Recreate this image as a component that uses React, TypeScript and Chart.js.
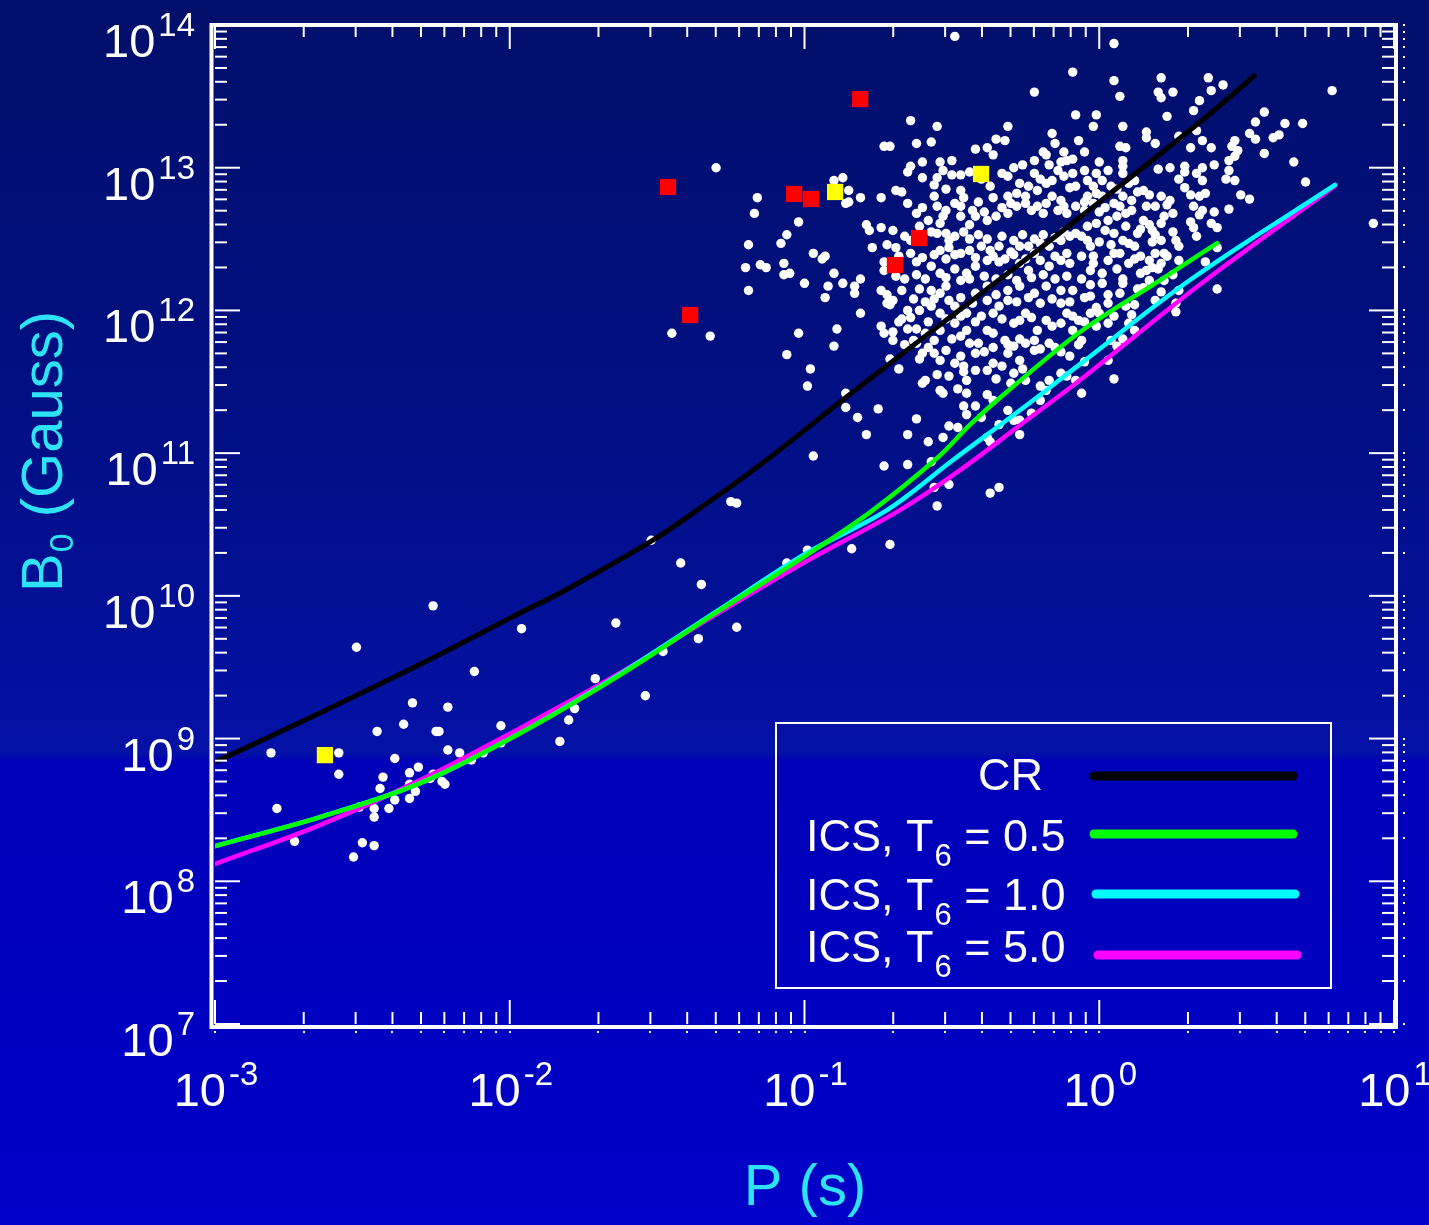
import React, { useEffect, useRef } from "react";
import { Chart, registerables } from "chart.js";

Chart.register(...registerables);

const FONT = '"Liberation Sans", Arial, Helvetica, sans-serif';

// Axis ranges and tick exponents
const X_MIN = 1e-3;
const X_MAX = 10;
const Y_MIN = 1e7;
const Y_MAX = 1e14;
const X_EXPONENTS = [-3, -2, -1, 0, 1];
const Y_EXPONENTS = [7, 8, 9, 10, 11, 12, 13, 14];
const X_TITLE = "P (s)";
const Y_TITLE = { main: "B", sub: "0", rest: " (Gauss)" };

// Legend entries
const LEGEND_ITEMS = [
  { main: "CR", sub: "", rest: "" },
  { main: "ICS, T", sub: "6", rest: " = 0.5" },
  { main: "ICS, T", sub: "6", rest: " = 1.0" },
  { main: "ICS, T", sub: "6", rest: " = 5.0" },
];

// Curves: [log10 P(s), log10 B(G)]
const crCurve = [
  [-3, 8.835], [-2.644, 9.179], [-2.304, 9.52], [-1.965, 9.88], [-1.829, 10.02],
  [-1.514, 10.391], [-1.354, 10.615], [-1.151, 10.917], [-0.879, 11.358], [-0.608, 11.792],
  [-0.336, 12.22], [-0.065, 12.654], [0.342, 13.32], [0.526, 13.643],
];
const icsT05 = [
  [-3, 8.247], [-2.644, 8.45], [-2.304, 8.688], [-1.965, 9.038], [-1.626, 9.445],
  [-1.287, 9.9], [-0.998, 10.279], [-0.777, 10.587], [-0.55, 10.966], [-0.438, 11.2],
  [-0.326, 11.407], [-0.065, 11.849], [0.207, 12.213], [0.4, 12.472],
];
const icsT10 = [
  [-3, 8.247], [-2.644, 8.45], [-2.304, 8.688], [-1.965, 9.038], [-1.626, 9.452],
  [-1.287, 9.907], [-0.998, 10.293], [-0.72, 10.601], [-0.496, 10.952], [-0.268, 11.302],
  [-0.065, 11.624], [0.308, 12.213], [0.8, 12.879],
];
const icsT50 = [
  [-3, 8.121], [-2.644, 8.394], [-2.304, 8.709], [-1.965, 9.073], [-1.626, 9.459],
  [-1.287, 9.886], [-0.998, 10.237], [-0.676, 10.601], [-0.472, 10.881], [-0.268, 11.197],
  [-0.065, 11.512], [0.353, 12.199], [0.8, 12.872],
];

// Red squares and yellow squares: [log10 P, log10 B]
const redSquares = [
  [-1.463, 12.865], [-1.388, 11.968], [-1.035, 12.816], [-0.978, 12.781],
  [-0.811, 13.481], [-0.693, 12.318], [-0.611, 12.507],
];
const yellowSquares = [
  [-2.627, 8.884], [-0.896, 12.83], [-0.401, 12.956],
];

// Pulsars (white dots): [log10 P, log10 B]
const pulsarsFast = [
  [-2.26, 9.93], [-2.52, 9.64], [-1.96, 9.77], [-1.64, 9.81], [-1.35, 10.08], [-2.12, 9.47],
  [-2.33, 9.25], [-2.21, 9.22], [-1.71, 9.42], [-1.54, 9.3], [-1.36, 9.7], [-1.23, 9.78],
  [-2.45, 9.05], [-2.36, 9.1], [-2.25, 9.05], [-2.24, 9.05], [-2.03, 9.09], [-1.78, 9.21],
  [-1.8, 9.13], [-1.83, 8.98], [-2.81, 8.9], [-2.58, 8.9], [-2.58, 8.75], [-2.39, 8.86],
  [-2.21, 8.92], [-2.17, 8.9], [-2.13, 8.85], [-2.09, 8.9], [-2.03, 8.97], [-2.43, 8.73],
  [-2.34, 8.76], [-2.31, 8.8], [-2.27, 8.72], [-2.26, 8.75], [-2.23, 8.7], [-2.22, 8.68],
  [-2.34, 8.68], [-2.44, 8.65], [-2.32, 8.63], [-2.39, 8.57], [-2.34, 8.58], [-2.51, 8.52],
  [-2.46, 8.51], [-2.41, 8.51], [-2.46, 8.45], [-2.79, 8.51], [-2.73, 8.28], [-2.5, 8.27],
  [-2.46, 8.25], [-2.53, 8.17], [-1.48, 9.61],
];
const pulsarsMid = [
  [-1.3, 13.0], [-1.16, 12.79], [-1.17, 12.68], [-1.02, 12.62], [-1.06, 12.53], [-1.19, 12.46],
  [-1.08, 12.47], [-1.2, 12.3], [-1.15, 12.32], [-1.13, 12.3], [-1.07, 12.33], [-1.07, 12.25],
  [-1.05, 12.26], [-0.97, 12.4], [-0.94, 12.36], [-0.93, 12.38], [-0.9, 12.26], [-1.0, 12.19],
  [-0.92, 12.17], [-0.93, 12.09], [-1.19, 12.14], [-1.02, 11.84], [-0.89, 11.87], [-0.9, 11.75],
  [-1.06, 11.69], [-0.98, 11.59], [-0.99, 11.47], [-1.45, 11.84], [-1.32, 11.82], [-0.97, 10.98],
  [-1.25, 10.66], [-1.23, 10.65], [-1.42, 10.23], [-1.06, 10.23], [-0.99, 10.32], [-1.52, 10.39],
  [-0.84, 10.33], [-0.71, 10.36], [-0.49, 13.92], [0.05, 13.87],
];
const pulsarsUpper = [
  [-0.09, 13.67], [-0.22, 13.53], [-0.08, 13.37], [-0.64, 13.33], [-0.55, 13.29], [-0.31, 13.29],
  [-0.16, 13.24], [-0.73, 13.15], [-0.71, 13.15], [-0.62, 13.17], [-0.57, 13.18], [-0.35, 13.2],
  [-0.32, 13.19], [-0.42, 13.13], [-0.38, 13.14], [-0.36, 13.09], [-0.15, 13.17], [-0.07, 13.19],
  [-0.19, 13.11], [-0.18, 13.09], [-0.12, 13.11], [-0.22, 13.05], [-0.26, 13.02], [-0.6, 13.04],
  [-0.54, 13.04], [-0.5, 13.05], [-0.64, 13.01], [-0.65, 12.97], [-0.53, 12.98], [-0.55, 12.93],
  [-0.5, 12.95], [-0.47, 12.95], [-0.33, 12.96], [-0.29, 13.0], [-0.17, 13.02], [-0.13, 13.04],
  [-0.11, 13.05], [-0.09, 13.06], [-0.9, 12.91], [-0.87, 12.93], [-0.85, 12.84], [-0.74, 12.79],
  [-0.69, 12.84], [-0.67, 12.83], [-0.81, 12.79], [-0.85, 12.76], [-0.86, 12.75], [-0.65, 12.75],
  [-0.56, 12.88], [-0.52, 12.85], [-0.47, 12.84], [-0.37, 12.87], [-0.27, 12.89], [-0.24, 12.87],
  [-0.18, 12.89], [-0.16, 12.91], [-0.12, 12.94], [-0.09, 12.96], [-0.56, 12.8], [-0.55, 12.73],
  [-0.49, 12.75], [-0.46, 12.79], [-0.43, 12.7], [-0.39, 12.69], [-0.36, 12.79], [-0.31, 12.8],
  [-0.28, 12.82], [-0.25, 12.8], [-0.21, 12.84], [-0.16, 12.8], [-0.13, 12.77], [-0.1, 12.86],
  [-0.08, 12.87], [-0.79, 12.6], [-0.78, 12.56], [-0.74, 12.58], [-0.7, 12.56], [-0.61, 12.59],
  [-0.58, 12.63], [-0.54, 12.61], [-0.53, 12.66], [-0.47, 12.66], [-0.44, 12.6], [-0.42, 12.66],
  [-0.38, 12.63], [-0.35, 12.66], [-0.31, 12.68], [-0.28, 12.73], [-0.25, 12.75], [-0.21, 12.73],
  [-0.18, 12.75], [-0.14, 12.7], [-0.11, 12.68], [-0.08, 12.73], [-0.77, 12.44], [-0.72, 12.46],
  [-0.69, 12.44], [-0.62, 12.34], [-0.57, 12.55], [-0.55, 12.54], [-0.52, 12.54], [-0.49, 12.52],
  [-0.46, 12.55], [-0.54, 12.42], [-0.51, 12.44], [-0.47, 12.4], [-0.44, 12.42], [-0.4, 12.45],
  [-0.37, 12.42], [-0.34, 12.45], [-0.3, 12.41], [-0.27, 12.45], [-0.24, 12.45], [-0.2, 12.47],
  [-0.17, 12.45], [-0.13, 12.49], [-0.1, 12.52], [-0.08, 12.54], [-0.73, 12.34], [-0.73, 12.28],
  [-0.81, 12.22], [-0.57, 12.31], [-0.54, 12.26], [-0.49, 12.29], [-0.45, 12.26], [-0.42, 12.31],
  [-0.38, 12.35], [-0.34, 12.34], [-0.27, 12.33], [-0.24, 12.28], [-0.2, 12.35], [-0.17, 12.31],
  [-0.13, 12.35], [-0.1, 12.33],
];
const pulsarsCore = [
  [-0.87, 12.19], [-0.83, 12.17], [-0.83, 12.12], [-0.81, 11.98], [-0.74, 12.14], [-0.72, 12.11],
  [-0.7, 12.07], [-0.67, 12.14], [-0.72, 12.05], [-0.71, 12.04], [-0.65, 12.0], [-0.67, 11.94],
  [-0.68, 11.92], [-0.74, 11.89], [-0.73, 11.84], [-0.7, 11.79], [-0.7, 11.85], [-0.65, 11.87],
  [-0.62, 11.87], [-0.68, 11.59], [-0.71, 11.66], [-0.66, 11.76], [-0.63, 11.79], [-0.61, 12.15],
  [-0.57, 12.14], [-0.56, 12.08], [-0.54, 12.12], [-0.52, 12.17], [-0.61, 12.0], [-0.57, 12.03],
  [-0.54, 11.98], [-0.49, 12.03], [-0.59, 11.84], [-0.56, 11.79], [-0.54, 11.86], [-0.49, 11.91],
  [-0.47, 11.82], [-0.45, 11.86], [-0.6, 11.7], [-0.56, 11.7], [-0.54, 11.65], [-0.52, 11.72],
  [-0.49, 11.63], [-0.46, 11.61], [-0.61, 11.66], [-0.6, 11.49], [-0.59, 11.51], [-0.55, 11.55],
  [-0.54, 11.44], [-0.53, 11.42], [-0.51, 11.54], [-0.48, 11.45], [-0.46, 11.57], [-0.45, 11.51],
  [-0.45, 11.42], [-0.47, 11.68], [-0.44, 11.77], [-0.42, 11.7], [-0.39, 11.71], [-0.45, 11.98],
  [-0.4, 11.96], [-0.36, 11.98], [-0.34, 12.03], [-0.31, 12.07], [-0.42, 12.12], [-0.38, 12.17],
  [-0.35, 12.11], [-0.31, 12.14], [-0.27, 12.17], [-0.22, 12.12], [-0.18, 12.17], [-0.13, 12.14],
  [-0.09, 12.14], [-0.38, 11.86], [-0.36, 11.84], [-0.32, 11.79], [-0.31, 11.76], [-0.29, 11.75],
  [-0.27, 11.93], [-0.25, 11.98], [-0.21, 11.86], [-0.18, 11.93], [-0.13, 11.91], [-0.11, 11.98],
  [-0.09, 11.86], [-0.25, 11.77], [-0.22, 11.72], [-0.2, 11.73], [-0.17, 11.77], [-0.13, 11.71],
  [-0.1, 11.68], [-0.42, 11.58], [-0.38, 11.58], [-0.36, 11.63], [-0.33, 11.61], [-0.31, 11.7],
  [-0.27, 11.65], [-0.35, 11.52], [-0.3, 11.49], [-0.29, 11.56], [-0.26, 11.59], [-0.25, 11.51],
  [-0.2, 11.47], [-0.17, 11.51], [-0.13, 11.56], [-0.38, 11.41], [-0.36, 11.37], [-0.42, 11.33],
  [-0.46, 11.33], [-0.45, 11.27], [-0.51, 11.19], [-0.48, 11.18], [-0.4, 11.25], [-0.31, 11.3],
  [-0.29, 11.23], [-0.27, 11.23], [-0.23, 11.28], [-0.2, 11.37], [-0.18, 11.44], [-0.27, 11.13],
  [-0.34, 11.2], [-0.38, 11.11], [-0.37, 11.08], [-0.09, 11.96], [-0.08, 11.51], [-0.11, 11.54],
  [-0.13, 12.05], [-0.86, 11.32], [-0.75, 11.31], [-0.82, 11.25], [-0.79, 11.13], [-0.62, 11.24],
  [-0.65, 11.13], [-0.58, 11.08], [-0.53, 11.11], [-0.73, 10.91], [-0.65, 10.92], [-0.57, 10.94],
  [-0.51, 10.78], [-0.56, 10.76], [-0.55, 10.63], [-0.37, 10.72], [-0.34, 10.76], [-0.86, 11.42],
];
const pulsarsDense = [
  [-0.6, 12.93], [-0.44, 12.97], [-0.4, 12.92], [-0.31, 12.94], [-0.22, 12.96], [-0.2, 12.92],
  [-0.14, 12.98], [-0.6, 12.72], [-0.52, 12.7], [-0.47, 12.73], [-0.41, 12.76], [-0.33, 12.72],
  [-0.3, 12.75], [-0.23, 12.7], [-0.19, 12.68], [-0.12, 12.73], [-0.05, 12.76], [-0.62, 12.68],
  [-0.66, 12.52], [-0.64, 12.49], [-0.6, 12.5], [-0.51, 12.49], [-0.44, 12.5], [-0.41, 12.53],
  [-0.38, 12.5], [-0.33, 12.52], [-0.29, 12.49], [-0.26, 12.53], [-0.22, 12.5], [-0.19, 12.53],
  [-0.15, 12.51], [-0.12, 12.55], [-0.04, 12.49], [-0.68, 12.38], [-0.64, 12.4], [-0.6, 12.37],
  [-0.56, 12.39], [-0.52, 12.36], [-0.49, 12.39], [-0.42, 12.37], [-0.36, 12.38], [-0.32, 12.36],
  [-0.29, 12.39], [-0.25, 12.36], [-0.22, 12.4], [-0.15, 12.38], [-0.11, 12.4], [-0.06, 12.38],
  [-0.69, 12.24], [-0.66, 12.22], [-0.62, 12.25], [-0.59, 12.22], [-0.52, 12.23], [-0.47, 12.21],
  [-0.44, 12.22], [-0.39, 12.24], [-0.35, 12.22], [-0.31, 12.25], [-0.28, 12.21], [-0.23, 12.23],
  [-0.19, 12.25], [-0.15, 12.22], [-0.11, 12.24], [-0.06, 12.22], [-0.63, 12.08], [-0.59, 12.06],
  [-0.51, 12.07], [-0.47, 12.09], [-0.43, 12.05], [-0.38, 12.07], [-0.28, 12.06], [-0.24, 12.09],
  [-0.2, 12.05], [-0.16, 12.08], [-0.1, 12.06], [-0.05, 12.09], [-0.64, 11.95], [-0.58, 11.92],
  [-0.52, 11.94], [-0.47, 11.96], [-0.42, 11.92], [-0.33, 11.94], [-0.29, 11.91], [-0.23, 11.95],
  [-0.16, 11.89], [-0.07, 11.93], [-0.62, 11.77], [-0.58, 11.74], [-0.5, 11.8], [-0.41, 11.77],
  [-0.36, 11.74], [-0.27, 11.8], [-0.22, 11.79], [-0.15, 11.74], [-0.07, 11.76], [0.02, 12.72],
  [0.06, 12.85], [0.11, 12.7], [0.14, 12.57], [0.02, 12.56], [0.1, 12.47], [0.19, 12.53],
  [0.12, 12.36], [0.05, 12.4], [-0.02, 12.33], [0.18, 12.3], [0.25, 12.25], [0.15, 12.16],
  [0.19, 12.07], [0.09, 12.03], [-0.01, 12.02],
];
const pulsarsSlow = [
  [0.05, 13.61], [0.21, 13.63], [0.37, 13.63], [0.42, 13.58], [0.07, 13.5], [0.2, 13.53],
  [0.21, 13.49], [0.25, 13.53], [0.38, 13.54], [0.34, 13.47], [0.32, 13.4], [-0.01, 13.37],
  [-0.02, 13.29], [0.08, 13.29], [0.23, 13.36], [0.16, 13.25], [0.16, 13.21], [0.19, 13.17],
  [0.27, 13.22], [0.33, 13.26], [0.07, 13.15], [0.09, 13.14], [-0.05, 13.11], [0.31, 13.14],
  [0.35, 13.19], [0.38, 13.14], [0.56, 13.39], [0.53, 13.32], [0.63, 13.31], [0.69, 13.31],
  [0.79, 13.54], [0.51, 13.24], [0.53, 13.2], [0.59, 13.21], [0.61, 13.23], [0.46, 13.19],
  [0.45, 13.15], [0.47, 13.12], [0.46, 13.08], [0.56, 13.1], [0.44, 13.05], [0.44, 12.98],
  [0.66, 13.04], [0.39, 13.02], [0.43, 12.92], [0.46, 12.91], [0.7, 12.9], [0.48, 12.81],
  [0.51, 12.78], [0.44, 12.71], [0.35, 13.0], [0.33, 12.96], [0.29, 13.01], [0.29, 12.97],
  [0.24, 13.0], [0.2, 12.99], [0.27, 12.92], [0.35, 12.91], [0.29, 12.86], [0.31, 12.81],
  [0.34, 12.8], [0.36, 12.82], [0.32, 12.73], [0.35, 12.7], [0.39, 12.69], [0.34, 12.67],
  [0.38, 12.61], [0.4, 12.58], [0.31, 12.62], [0.32, 12.58], [0.33, 12.52], [0.25, 12.55],
  [0.26, 12.49], [0.27, 12.45], [0.18, 12.48], [0.21, 12.49], [0.22, 12.4], [0.23, 12.38],
  [0.27, 12.35], [0.4, 12.44], [0.36, 12.34], [0.21, 12.33], [0.2, 12.29], [0.16, 12.28],
  [0.24, 12.77], [0.21, 12.8], [0.17, 12.81], [0.15, 12.84], [0.13, 12.83], [0.16, 12.73],
  [0.19, 12.73], [0.23, 12.74], [0.25, 12.68], [0.22, 12.66], [0.15, 12.63], [0.17, 12.6],
  [0.18, 12.56], [0.21, 12.61], [0.08, 13.01], [0.08, 13.05], [0.08, 12.96], [0.12, 12.91],
  [0.1, 12.89], [0.0, 13.04], [0.03, 12.98], [-0.01, 12.96], [0.01, 12.91], [0.04, 12.87],
  [-0.02, 12.87], [-0.04, 12.91], [-0.05, 12.98], [-0.04, 12.8], [-0.01, 12.82], [0.01, 12.8],
  [-0.02, 12.75], [-0.05, 12.7], [0.0, 12.69], [0.05, 12.75], [0.07, 12.73], [0.08, 12.8],
  [0.11, 12.77], [0.09, 12.68], [0.06, 12.66], [0.03, 12.63], [-0.01, 12.61], [-0.04, 12.59],
  [0.05, 12.54], [0.09, 12.59], [0.13, 12.54], [0.08, 12.49], [0.04, 12.46], [0.0, 12.48],
  [-0.03, 12.45], [-0.06, 12.52], [-0.02, 12.38], [0.03, 12.35], [0.07, 12.4], [0.12, 12.45],
  [0.14, 12.38], [0.1, 12.33], [0.06, 12.29], [0.01, 12.26], [-0.03, 12.28], [0.08, 12.22],
  [0.14, 12.26], [0.17, 12.35], [0.19, 12.4], [0.93, 12.61],
  [-0.03, 12.18], [0.01, 12.19], [0.08, 12.19], [0.17, 12.21], [0.22, 12.21], [-0.03, 12.1],
  [0.03, 12.11], [0.07, 12.12], [0.13, 12.15], [0.21, 12.13], [0.4, 12.15], [0.03, 12.05],
  [0.12, 12.04], [0.26, 12.05], [0.26, 11.99], [0.27, 12.14], [-0.03, 11.98], [0.0, 11.98],
  [0.05, 11.96], [0.11, 11.97], [-0.05, 11.92], [-0.01, 11.89], [0.03, 11.91], [0.1, 11.91],
  [-0.06, 11.79], [0.04, 11.79], [0.08, 11.8], [0.12, 11.86], [0.06, 11.75], [-0.05, 11.64],
  [0.03, 11.65], [0.05, 11.52], [-0.06, 11.42],
];

const toXY = (arr: number[][]) => arr.map(([p, b]) => ({ x: Math.pow(10, p), y: Math.pow(10, b) }));

const LINE_COLORS = { cr: "#000000", t05: "#00ff00", t10: "#00ffff", t50: "#ff00ff" };
const LEGEND_LINE_COLORS = [LINE_COLORS.cr, LINE_COLORS.t05, LINE_COLORS.t10, LINE_COLORS.t50];

const bgPlugin = {
  id: "bgGradient",
  beforeDraw(chart: any) {
    const { ctx, width, height } = chart;
    const g = ctx.createLinearGradient(0, 0, 0, height);
    g.addColorStop(0, "#020f6a");
    g.addColorStop(0.35, "#000f84");
    g.addColorStop(0.615, "#0411a6");
    g.addColorStop(0.621, "#0000b8");
    g.addColorStop(1, "#0000c8");
    ctx.save();
    ctx.fillStyle = g;
    ctx.fillRect(0, 0, width, height);
    ctx.restore();
  },
};

const framePlugin = {
  id: "frameTicks",
  afterDatasetsDraw(chart: any) {
    const { ctx, chartArea } = chart;
    const { left, right, top, bottom } = chartArea;
    const xs = chart.scales.x;
    const ys = chart.scales.y;
    ctx.save();
    ctx.strokeStyle = "#ffffff";
    ctx.fillStyle = "#ffffff";
    ctx.lineWidth = 2;
    const seg = (x1: number, y1: number, x2: number, y2: number) => {
      ctx.beginPath();
      ctx.moveTo(x1, y1);
      ctx.lineTo(x2, y2);
      ctx.stroke();
    };
    for (let e = -3; e <= 1; e++) {
      for (let m = 1; m <= 9; m++) {
        if (e === 1 && m > 1) break;
        const px = xs.getPixelForValue(m * Math.pow(10, e));
        const len = m === 1 ? 24 : 12;
        seg(px, bottom, px, bottom - len);
        seg(px, top, px, top + len);
        ctx.fillRect(Math.round(px) - 1, bottom + 7, 2, 2);
      }
    }
    for (let e = 7; e <= 14; e++) {
      for (let m = 1; m <= 9; m++) {
        if (e === 14 && m > 1) break;
        const py = ys.getPixelForValue(m * Math.pow(10, e));
        const len = m === 1 ? 25 : 12;
        seg(left, py, left + len, py);
        seg(right, py, right - len, py);
        ctx.fillRect(right + 9, Math.round(py) - 1, 2, 2);
      }
    }
    ctx.lineWidth = 4;
    ctx.strokeRect(left - 3.5, top, right - left + 5.5, bottom - top + 3);
    ctx.restore();
  },
};

const labelsPlugin = {
  id: "labelsLegend",
  afterDraw(chart: any) {
    const { ctx } = chart;
    const xs = chart.scales.x;
    const ys = chart.scales.y;
    const main = `47px ${FONT}`;
    const sup = `33px ${FONT}`;
    ctx.save();
    ctx.fillStyle = "#ffffff";
    ctx.textBaseline = "alphabetic";
    for (const e of Y_EXPONENTS) {
      const py = ys.getPixelForValue(Math.pow(10, e));
      const s = String(e);
      ctx.font = sup;
      ctx.textAlign = "right";
      const sw = ctx.measureText(s).width;
      ctx.fillText(s, 195, py + 11);
      ctx.font = main;
      ctx.fillText("10", 195 - sw - 3, py + 32);
    }
    for (const e of X_EXPONENTS) {
      const px = xs.getPixelForValue(Math.pow(10, e));
      const s = e < 0 ? "-" + Math.abs(e) : String(e);
      ctx.textAlign = "left";
      ctx.font = main;
      const w10 = ctx.measureText("10").width;
      ctx.font = sup;
      const ws = ctx.measureText(s).width;
      const start = px - (w10 + 3 + ws) / 2 + 1;
      ctx.font = main;
      ctx.fillText("10", start, 1106);
      ctx.font = sup;
      ctx.fillText(s, start + w10 + 3, 1085);
    }
    ctx.fillStyle = "#2fe3f7";
    ctx.font = `58px ${FONT}`;
    ctx.textAlign = "center";
    ctx.fillText(X_TITLE, 805, 1205);
    ctx.save();
    ctx.translate(62, 452);
    ctx.rotate(-Math.PI / 2);
    ctx.textAlign = "left";
    ctx.font = `58px ${FONT}`;
    const wB = ctx.measureText(Y_TITLE.main).width;
    const wR = ctx.measureText(Y_TITLE.rest).width;
    ctx.font = `34px ${FONT}`;
    const w0 = ctx.measureText(Y_TITLE.sub).width;
    let sx = -(wB + w0 + wR) / 2;
    ctx.font = `58px ${FONT}`;
    ctx.fillText(Y_TITLE.main, sx, 0);
    sx += wB + 1;
    ctx.font = `34px ${FONT}`;
    ctx.fillText(Y_TITLE.sub, sx, 11);
    sx += w0;
    ctx.font = `58px ${FONT}`;
    ctx.fillText(Y_TITLE.rest, sx, 0);
    ctx.restore();

    ctx.strokeStyle = "#ffffff";
    ctx.lineWidth = 2;
    ctx.strokeRect(776, 723, 555, 265);
    ctx.fillStyle = "#ffffff";
    ctx.textAlign = "left";
    const rows = [
      { x: 978, base: 790, ly: 776, lx1: 1094, lx2: 1293 },
      { x: 806, base: 851, ly: 834, lx1: 1094, lx2: 1293 },
      { x: 806, base: 910, ly: 894, lx1: 1096, lx2: 1295 },
      { x: 806, base: 962, ly: 955, lx1: 1098, lx2: 1297 },
    ];
    LEGEND_ITEMS.forEach((it, i) => {
      const r = rows[i];
      let x = r.x;
      ctx.font = `45px ${FONT}`;
      ctx.fillText(it.main, x, r.base);
      x += ctx.measureText(it.main).width;
      if (it.sub) {
        ctx.font = `31px ${FONT}`;
        ctx.fillText(it.sub, x + 1, r.base + 15);
        x += ctx.measureText(it.sub).width + 1;
      }
      if (it.rest) {
        ctx.font = `45px ${FONT}`;
        ctx.fillText(it.rest, x, r.base);
      }
      ctx.strokeStyle = LEGEND_LINE_COLORS[i];
      ctx.lineWidth = 9;
      ctx.lineCap = "round";
      ctx.beginPath();
      ctx.moveTo(r.lx1, r.ly);
      ctx.lineTo(r.lx2, r.ly);
      ctx.stroke();
    });
    ctx.restore();
  },
};

export default function App() {
  const ref = useRef<HTMLCanvasElement | null>(null);

  useEffect(() => {
    if (!ref.current) return;
    const lineDs = (label: string, data: number[][], color: string, width: number, order: number) => ({
      label,
      data: toXY(data),
      showLine: true,
      borderColor: color,
      backgroundColor: color,
      borderWidth: width,
      borderCapStyle: "round" as const,
      pointRadius: 0,
      pointHoverRadius: 0,
      tension: 0.35,
      fill: false,
      order,
    });
    const allPulsars = [
      ...pulsarsFast, ...pulsarsMid, ...pulsarsUpper, ...pulsarsCore, ...pulsarsDense, ...pulsarsSlow,
    ];
    const chart = new Chart(ref.current, {
      type: "scatter",
      data: {
        datasets: [
          lineDs("CR", crCurve, LINE_COLORS.cr, 5, 0),
          lineDs("ICS T6=0.5", icsT05, LINE_COLORS.t05, 4.5, 1),
          lineDs("ICS T6=1.0", icsT10, LINE_COLORS.t10, 4.5, 2),
          lineDs("ICS T6=5.0", icsT50, LINE_COLORS.t50, 4.5, 3),
          {
            label: "red",
            data: toXY(redSquares),
            pointStyle: "rect",
            pointRadius: 11.5,
            pointHoverRadius: 11.5,
            pointBackgroundColor: "#ff0000",
            pointBorderWidth: 0,
            showLine: false,
            order: 4,
          },
          {
            label: "yellow",
            data: toXY(yellowSquares),
            pointStyle: "rect",
            pointRadius: 11.5,
            pointHoverRadius: 11.5,
            pointBackgroundColor: "#ffff00",
            pointBorderWidth: 0,
            showLine: false,
            order: 5,
          },
          {
            label: "pulsars",
            data: toXY(allPulsars),
            pointRadius: 4.7,
            pointHoverRadius: 4.7,
            pointBackgroundColor: "#ffffff",
            pointBorderWidth: 0,
            showLine: false,
            order: 6,
          },
        ],
      },
      options: {
        responsive: false,
        animation: false,
        devicePixelRatio: 1,
        events: [],
        layout: { padding: { left: 215, top: 25, right: 35, bottom: 201 } },
        plugins: { legend: { display: false }, tooltip: { enabled: false } },
        scales: {
          x: { type: "logarithmic", min: X_MIN, max: X_MAX, display: false },
          y: { type: "logarithmic", min: Y_MIN, max: Y_MAX, display: false },
        },
      },
      plugins: [bgPlugin, framePlugin, labelsPlugin],
    } as any);
    return () => chart.destroy();
  }, []);

  return (
    <div style={{ position: "fixed", left: 0, top: 0, width: 1429, height: 1225 }}>
      <canvas ref={ref} width={1429} height={1225} style={{ display: "block", width: 1429, height: 1225 }} />
    </div>
  );
}
